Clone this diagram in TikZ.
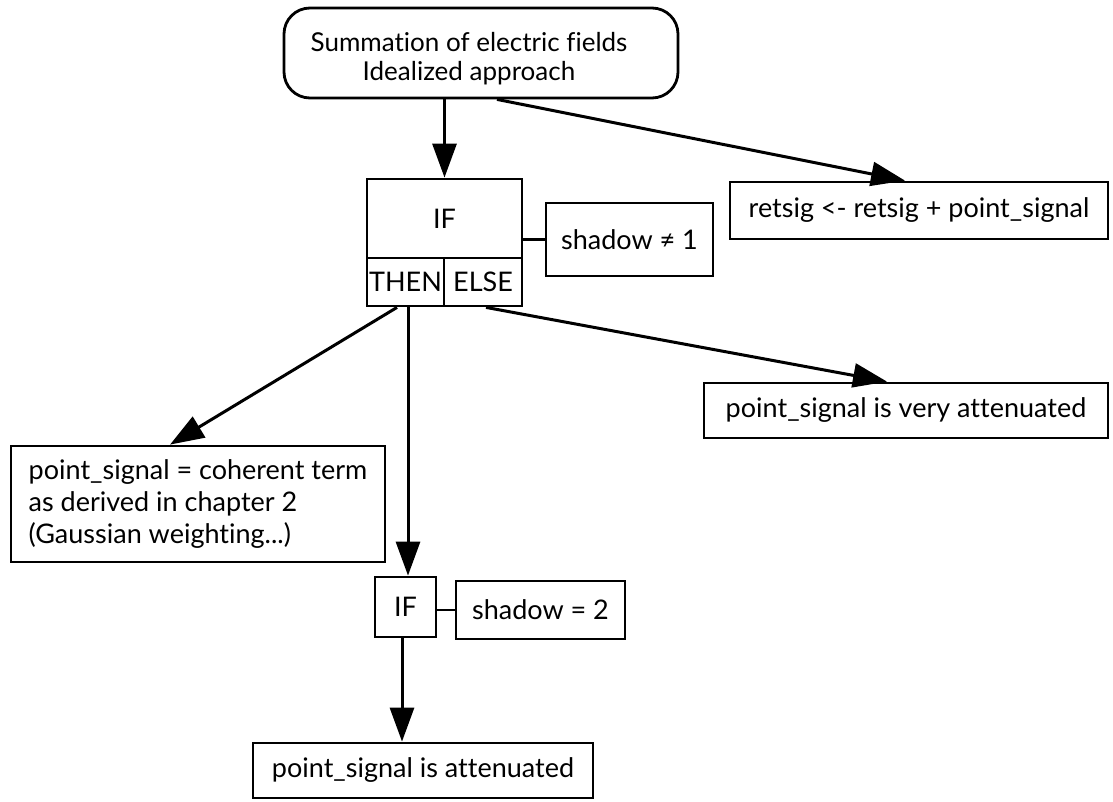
\documentclass[tikz,border=0pt]{standalone}
\usepackage{fontspec}
\setmainfont{Lato}[Ligatures=NoCommon]
\usetikzlibrary{arrows.meta,calc}
\begin{document}
\begin{tikzpicture}[x=1pt,y=-1pt,
  every node/.style={font=\fontsize{27}{32}\selectfont},
  box/.style={draw,line width=2.8pt,inner sep=0pt,minimum height=#1},
  box/.default=56pt,
  arr/.style={line width=3pt,-{Triangle[length=34pt,width=24pt]}},
  lnk/.style={line width=2.8pt}]
\useasboundingbox (0,0) rectangle (1113,801);
% top rounded box
\node[box=90pt,rounded corners=26pt,minimum width=394pt,align=center,font=\fontsize{26}{29}\selectfont] (top) at (481,53) {\rule{0pt}{31pt}Summation of electric fields\hspace*{24pt}\\Idealized approach\hspace*{24pt}};
% IF box
\node[box=79pt,minimum width=155pt] (iftop) at (444.5,218.5) {IF};
\node[box=48pt,minimum width=77pt] (thenc) at (405.5,282) {THEN};
\node[box=48pt,minimum width=78pt] (elsec) at (483,282) {ELSE};
\node[box=73pt,minimum width=167pt] (sh1) at (629.5,239.5) {shadow ≠ 1};
\node[box=57pt,minimum width=378pt] (ret) at (919,210.5) {retsig <- retsig + point\_signal};
\node[box=116pt,minimum width=374pt,align=left] (coh) at (198,504) {point\_signal = coherent term\\as derived in chapter 2\\(Gaussian weighting...)};
\node[box=55pt,minimum width=404pt] (very) at (906,410.5) {point\_signal is very attenuated};
\node[box=60pt,minimum width=61pt] (if2) at (405.5,607) {IF};
\node[box=58pt,minimum width=169pt] (sh2) at (540.5,610) {shadow = 2};
\node[box=55pt,minimum width=340pt] (att) at (423,770.5) {point\_signal is attenuated};
% connectors
\draw[arr] (top.south -| iftop.north) -- (iftop.north);
\draw[arr] ($(top.south)+(16,0)$) -- ($(ret.north)+(-14,0)$);
\draw[lnk] (iftop.east |- sh1.west) -- (sh1.west);
\draw[arr] ($(thenc.south)+(-8.5,0)$) -- ($(coh.north)+(-28,0)$);
\draw[arr] ($(thenc.south)+(2.5,0)$) -- (if2.north -| {$(thenc.south)+(2.5,0)$});
\draw[arr] ($(elsec.south)+(3,0)$) -- ($(very.north)+(-19,0)$);
\draw[lnk] (if2.east |- sh2.west) -- (sh2.west);
\draw[arr] ($(if2.south)+(-3.5,0)$) -- (att.north -| {$(if2.south)+(-3.5,0)$});
\end{tikzpicture}
\end{document}
